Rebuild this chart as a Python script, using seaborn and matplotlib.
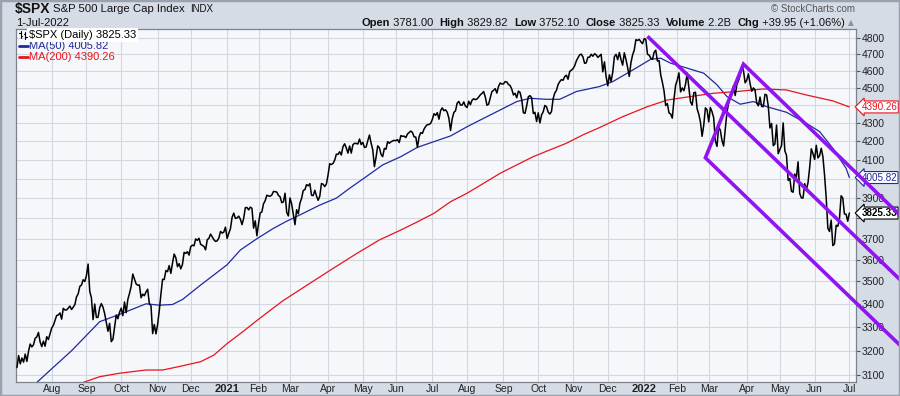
import matplotlib
matplotlib.use("Agg")
import matplotlib.pyplot as plt
import matplotlib.ticker as mticker
import matplotlib.transforms as mtrans
from matplotlib.lines import Line2D
import numpy as np
import pandas as pd
import seaborn as sns

# ── dados ─────────────────────────────────────────────────────
# pregões por mês: Jul-2020 (a partir do dia 2) .. Jul-2022 (só o dia 1)
month_labels = ["Jul", "Aug", "Sep", "Oct", "Nov", "Dec",
                "2021", "Feb", "Mar", "Apr", "May", "Jun",
                "Jul", "Aug", "Sep", "Oct", "Nov", "Dec",
                "2022", "Feb", "Mar", "Apr", "May", "Jun", "Jul"]
days_in_month = [21, 21, 21, 22, 20, 22,
                 19, 19, 23, 21, 20, 22, 21, 22, 21, 21, 21, 22,
                 20, 19, 23, 20, 21, 21, 1]

close_2020 = [
    3130, 3179, 3145, 3169, 3152, 3185, 3155, 3197, 3227, 3215, 3224, 3251, 3257, 3276, 3236, 3216, 3239, 3218, 3258, 3246, 3271,
    3295, 3306, 3327, 3349, 3351, 3360, 3333, 3380, 3373, 3373, 3381, 3390, 3375, 3385, 3397, 3431, 3444, 3478, 3484, 3508, 3500,
    3527, 3580, 3455, 3427, 3331, 3399, 3340, 3341, 3383, 3401, 3385, 3357, 3319, 3281, 3315, 3237, 3247, 3298, 3351, 3335, 3363,
    3381, 3348, 3408, 3361, 3419, 3446, 3477, 3534, 3512, 3489, 3483, 3484, 3427, 3443, 3436, 3453, 3465, 3401, 3391, 3271, 3310, 3270,
    3310, 3370, 3443, 3510, 3509, 3550, 3545, 3573, 3537, 3585, 3627, 3610, 3568, 3582, 3558, 3578, 3635, 3630, 3638, 3622,
    3662, 3669, 3666, 3699, 3692, 3702, 3673, 3668, 3663, 3647, 3695, 3702, 3722, 3709, 3695, 3687, 3690, 3703, 3735, 3727, 3732, 3756,
]
close_2021 = [
    3701, 3726, 3748, 3804, 3825, 3799, 3801, 3810, 3795, 3768, 3799, 3852, 3853, 3841, 3855, 3849, 3751, 3787, 3714,
    3774, 3826, 3831, 3872, 3887, 3915, 3911, 3910, 3916, 3934, 3933, 3931, 3914, 3907, 3877, 3881, 3925, 3829, 3811,
    3901, 3870, 3820, 3768, 3842, 3821, 3875, 3899, 3939, 3943, 3969, 3963, 3974, 3915, 3913, 3940, 3911, 3889, 3910, 3975, 3971, 3959, 3973,
    4020, 4078, 4074, 4080, 4097, 4129, 4128, 4142, 4125, 4170, 4185, 4163, 4135, 4173, 4135, 4180, 4188, 4187, 4184, 4211, 4181,
    4193, 4165, 4168, 4202, 4233, 4189, 4153, 4063, 4113, 4174, 4164, 4128, 4116, 4160, 4156, 4197, 4188, 4196, 4201, 4204,
    4202, 4208, 4192, 4230, 4226, 4227, 4219, 4239, 4247, 4255, 4247, 4223, 4222, 4166, 4224, 4246, 4242, 4266, 4281, 4291, 4291, 4298,
    4320, 4352, 4343, 4358, 4321, 4370, 4385, 4369, 4374, 4360, 4327, 4258, 4323, 4359, 4368, 4412, 4422, 4401, 4401, 4419, 4395,
    4387, 4423, 4403, 4429, 4437, 4432, 4436, 4447, 4460, 4468, 4479, 4448, 4400, 4406, 4442, 4479, 4486, 4496, 4470, 4509, 4529, 4523,
    4524, 4537, 4535, 4520, 4514, 4493, 4459, 4469, 4443, 4481, 4474, 4433, 4358, 4354, 4396, 4449, 4455, 4443, 4353, 4360, 4308,
    4357, 4300, 4345, 4363, 4399, 4391, 4361, 4350, 4364, 4438, 4471, 4486, 4520, 4537, 4549, 4545, 4567, 4575, 4551, 4597, 4605,
    4614, 4631, 4660, 4680, 4697, 4702, 4685, 4646, 4649, 4683, 4683, 4701, 4689, 4704, 4698, 4682, 4691, 4701, 4595, 4655, 4567,
    4513, 4577, 4538, 4592, 4686, 4701, 4668, 4712, 4669, 4635, 4710, 4669, 4621, 4568, 4649, 4697, 4726, 4791, 4786, 4793, 4778, 4766,
]
close_2022 = [
    4797, 4793, 4701, 4696, 4677, 4670, 4713, 4726, 4660, 4663, 4577, 4533, 4483, 4398, 4410, 4357, 4350, 4327, 4432, 4516,
    4546, 4589, 4477, 4500, 4484, 4522, 4587, 4504, 4419, 4401, 4472, 4475, 4380, 4349, 4305, 4226, 4288, 4385, 4374,
    4306, 4387, 4363, 4329, 4201, 4171, 4278, 4260, 4204, 4173, 4262, 4358, 4412, 4463, 4461, 4512, 4456, 4520, 4543, 4575, 4632, 4602, 4530,
    4546, 4583, 4525, 4481, 4500, 4488, 4413, 4397, 4447, 4393, 4392, 4463, 4459, 4394, 4272, 4297, 4175, 4184, 4288, 4132,
    4155, 4175, 4300, 4147, 4123, 3991, 4001, 3935, 3930, 4024, 4008, 4088, 3924, 3901, 3901, 3974, 3941, 3979, 4058, 4158, 4132,
    4101, 4177, 4109, 4121, 4161, 4116, 4018, 3901, 3750, 3735, 3790, 3667, 3675, 3765, 3760, 3796, 3912, 3901, 3821, 3819, 3785,
    3825.33,
]

# médias móveis (pregão, valor)
ma50_t = [12, 21, 33, 50, 61, 78, 86, 94, 100, 111, 119, 127, 135, 145, 155, 163, 171, 183, 193, 201,
          211, 221, 232, 242, 252, 262, 272, 282, 292, 302, 310, 320, 328, 338, 352, 360, 374, 383,
          389, 395, 405, 415, 423, 429, 437, 445, 453, 465, 477, 485, 493, 501, 503]
ma50_v = [3070, 3125, 3199, 3322, 3351, 3400, 3394, 3397, 3419, 3484, 3530, 3577, 3646, 3700, 3750, 3785, 3816, 3865, 3900, 3950,
          4010, 4072, 4116, 4166, 4197, 4228, 4279, 4326, 4373, 4421, 4440, 4434, 4434, 4479, 4508, 4537, 4617, 4671,
          4677, 4647, 4617, 4587, 4518, 4450, 4406, 4421, 4392, 4360, 4298, 4252, 4161, 4054, 4005.82]
ma200_t = [40, 50, 62, 78, 88, 98, 111, 119, 127, 135, 145, 153, 161, 175, 190, 205, 219, 232, 242, 252,
           262, 272, 282, 292, 302, 312, 322, 332, 342, 352, 366, 381, 393, 407, 421, 435, 451, 465, 477, 493, 503]
ma200_v = [3070, 3093, 3107, 3120, 3120, 3134, 3154, 3181, 3229, 3271, 3327, 3371, 3415, 3482, 3555, 3628, 3694, 3742, 3782, 3824,
           3882, 3925, 3976, 4028, 4072, 4116, 4152, 4188, 4234, 4274, 4335, 4392, 4430, 4450, 4469, 4479, 4494, 4488, 4459, 4425, 4390.26]

# canal de tendência (roxo)
top_t = [381, 536];            top_p = [4812, 3491]
chan_t = [536, 416, 439, 536]; chan_p = [3206, 4110, 4641, 3796]

y_ticks = list(range(3100, 4801, 100))
hidden_y = [3800, 4000, 4400]   # cobertos pelas caixas de último valor

closes = close_2020 + close_2021 + close_2022
assert len(closes) == sum(days_in_month)
df = pd.DataFrame({"t": np.arange(len(closes)), "close": closes})
month_pos = np.cumsum([0] + days_in_month[:-1])

# ── estilo ────────────────────────────────────────────────────
sns.set_theme(style="white")
plt.rcParams["font.family"] = ["Liberation Sans", "DejaVu Sans"]

BG = "#d6dce6"
PLOT_BG = "#f5f7fb"
GRID = "#d3d8e0"
NAVY = "#1f2a9c"
RED = "#e8141c"
PURPLE = "#8f14f0"

W, H = 900, 396
fig = plt.figure(figsize=(W / 100, H / 100), dpi=100, facecolor=BG)
ax = fig.add_axes([16 / W, 1 - 381.7 / H, 840 / W, 353.2 / H])
ax.set_facecolor(PLOT_BG)
renderer = fig.canvas.get_renderer()


def fx(x):
    return x / W


def fy(y):
    return 1 - y / H


# ── séries ────────────────────────────────────────────────────
sns.lineplot(data=df, x="t", y="close", ax=ax, color="black", linewidth=1.1, estimator=None, zorder=3)
sns.lineplot(x=ma50_t, y=ma50_v, ax=ax, color=NAVY, linewidth=0.9, estimator=None, zorder=2)
sns.lineplot(x=ma200_t, y=ma200_v, ax=ax, color=RED, linewidth=0.9, estimator=None, zorder=2)

ax.plot(top_t, top_p, color=PURPLE, lw=2.6, clip_on=False, zorder=6, solid_capstyle="butt")
ax.plot(chan_t, chan_p, color=PURPLE, lw=2.6, clip_on=False, zorder=6,
        solid_capstyle="butt", solid_joinstyle="miter")

# ── eixos ─────────────────────────────────────────────────────
ax.set_yscale("log")
ax.set_ylim(3073, 4861)
ax.set_xlim(-0.57, 507.0)
ax.set_xlabel("")
ax.set_ylabel("")

ax.yaxis.set_major_locator(mticker.FixedLocator(y_ticks))
ax.yaxis.set_minor_locator(mticker.NullLocator())
ax.yaxis.set_major_formatter(mticker.FuncFormatter(lambda v, _: "" if round(v) in hidden_y else f"{v:.0f}"))
ax.yaxis.tick_right()
ax.tick_params(axis="y", which="major", direction="out", length=3, width=0.8, color="#555555",
               pad=1, labelsize=7.5, labelcolor="#222222", right=True, left=False)

ax.set_xticks(month_pos[1:])
ax.set_xticklabels(month_labels[1:])
ax.tick_params(axis="x", length=0, pad=1.5, labelsize=7.5, labelcolor="#222222")
for lab in ax.get_xticklabels():
    if lab.get_text().startswith("20"):
        lab.set_fontweight("bold")
        lab.set_fontsize(8)

ax.grid(True, color=GRID, linewidth=0.8)
ax.set_axisbelow(True)
for s in ax.spines.values():
    s.set_color("#7d838c")
    s.set_linewidth(0.9)

# caixas de último valor
blend = mtrans.blended_transform_factory(ax.transAxes, ax.transData)
for val, col, wt in [(ma200_v[-1], RED, "normal"), (ma50_v[-1], NAVY, "normal"), (closes[-1], "black", "bold")]:
    ax.text(1.0065, val, f"{val:.2f}", transform=blend, ha="left", va="center", fontsize=7.1,
            color=col, fontweight=wt, zorder=5, clip_on=False,
            bbox=dict(boxstyle="larrow,pad=0.1", fc="white", ec=col, lw=0.8))

# ── legenda no gráfico ───────────────────────────────────────
fig.text(fx(29), fy(35), "\\$SPX (Daily) 3825.33", fontsize=8, color="black", va="center", ha="left",
         bbox=dict(boxstyle="square,pad=0.15", fc="white", ec="none"), zorder=10)
for xs, ys in [([20.5, 20.5], [31, 38]), ([19, 20.5], [33, 33]), ([20.5, 22], [36, 36]),
               ([25, 25], [32, 39]), ([23.5, 25], [34, 34]), ([25, 26.5], [37, 37])]:
    fig.add_artist(Line2D([fx(x) for x in xs], [fy(y) for y in ys], color="black", lw=0.8, zorder=11))
fig.add_artist(Line2D([fx(19), fx(28)], [fy(45.7), fy(45.7)], color=NAVY, lw=2))
fig.text(fx(29), fy(45.7), "MA(50) 4005.82", fontsize=8, color=NAVY, va="center", ha="left")
fig.add_artist(Line2D([fx(19), fx(28)], [fy(57.3), fy(57.3)], color=RED, lw=2))
fig.text(fx(29), fy(57.3), "MA(200) 4390.26", fontsize=8, color=RED, va="center", ha="left")

# ── cabeçalho ────────────────────────────────────────────────
fig.text(fx(15), fy(9), "\\$SPX", fontsize=10, fontweight="bold", color="#111111", va="center", ha="left")
name = fig.text(fx(53), fy(9), "S&P 500 Large Cap Index", fontsize=8.2, color="#111111",
                va="center", ha="left")
name_end = name.get_window_extent(renderer=renderer).x1
fig.text((name_end + 5) / W, fy(9.5), "INDX", fontsize=7, color="#111111", va="center", ha="left")
fig.text(fx(16), fy(22.5), "1-Jul-2022", fontsize=8, color="#111111", va="center", ha="left")
fig.text(fx(855), fy(9), "© StockCharts.com", fontsize=7, color="#555555", va="center", ha="right")
fig.text(fx(851), fy(22.5), "▲", fontsize=5.5, color="#8a929c", va="center", ha="center",
         family=["DejaVu Sans"])

pieces = [("Open", "bold"), (" 3781.00  ", "normal"), ("High", "bold"), (" 3829.82  ", "normal"),
          ("Low", "bold"), (" 3752.10  ", "normal"), ("Close", "bold"), (" 3825.33  ", "normal"),
          ("Volume", "bold"), (" 2.2B  ", "normal"), ("Chg", "bold"), (" +39.95 (+1.06%)", "normal")]
x_right = 845.0
for txt, wt in reversed(pieces):
    t = fig.text(fx(x_right), fy(22.5), txt, fontsize=8, fontweight=wt, color="#111111",
                 va="center", ha="right")
    bb = t.get_window_extent(renderer=renderer)
    x_right -= bb.width

# moldura externa
fig.add_artist(plt.Rectangle((0, 0), 1, 1, transform=fig.transFigure, fill=False,
                             ec="#9aa2ad", lw=2.5))

plt.savefig("out.png", dpi=100, facecolor=BG)
plt.close()
